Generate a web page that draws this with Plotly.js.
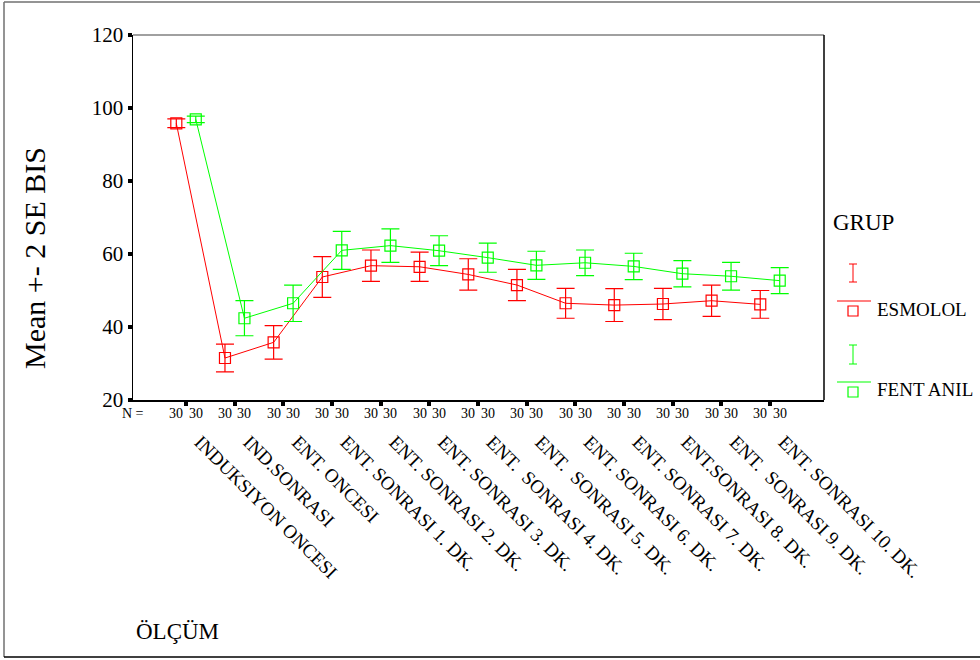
<!DOCTYPE html>
<html>
<head>
<meta charset="utf-8">
<script src="https://cdn.plot.ly/plotly-3.0.1.min.js"></script>
<style>html,body{margin:0;padding:0;background:#fff;}#chart{width:980px;height:660px;}</style>
</head>
<body>
<div id="chart"></div>
<script>
// ---- data ----
const categories = [
  "INDUKSIYON ONCESI", "IND.SONRASI", "ENT. ONCESI",
  "ENT. SONRASI 1. DK.", "ENT. SONRASI 2. DK.", "ENT. SONRASI 3. DK.",
  "ENT.  SONRASI 4. DK.", "ENT.  SONRASI 5. DK.", "ENT. SONRASI 6. DK.",
  "ENT. SONRASI 7. DK.", "ENT.SONRASI 8. DK.", "ENT.  SONRASI 9. DK.",
  "ENT. SONRASI 10. DK."
];
const esmololMean = [95.8, 31.5, 35.8, 53.7, 56.8, 56.5, 54.4, 51.5, 46.5, 46.0, 46.3, 47.2, 46.2];
const esmololErr  = [1.2, 3.8, 4.6, 5.6, 4.3, 4.0, 4.3, 4.3, 4.1, 4.5, 4.3, 4.3, 3.8];
const fentanilMean = [96.9, 42.4, 46.5, 61.0, 62.3, 60.9, 59.0, 56.9, 57.6, 56.6, 54.6, 53.9, 52.7];
const fentanilErr  = [0.9, 4.8, 5.0, 5.2, 4.6, 4.1, 4.0, 3.85, 3.5, 3.6, 3.6, 3.8, 3.55];
const nEsmolol = [30, 30, 30, 30, 30, 30, 30, 30, 30, 30, 30, 30, 30];
const nFentanil = [30, 30, 30, 30, 30, 30, 30, 30, 30, 30, 30, 30, 30];
const groupNames = ["ESMOLOL", "FENT ANIL"];
const yTicks = [20, 40, 60, 80, 100, 120];

// ---- styling ----
const RED = "#ff0000", GREEN = "#00ff00";
const FONT = "'Liberation Serif', 'Times New Roman', serif";
const OFF = 0.2;
const idx = categories.map((_, i) => i);

function series(mean, err, color, shift, name) {
  return {
    type: "scatter", mode: "lines+markers", name: name,
    x: idx.map(i => i + shift), y: mean,
    line: {color: color, width: 1},
    marker: {symbol: "square-open", size: 11, color: color, line: {width: 1.2, color: color}},
    error_y: {type: "data", array: err, visible: true, color: color, thickness: 1.2, width: 9},
    hoverinfo: "x+y", showlegend: false, cliponaxis: false
  };
}

const traces = [
  series(esmololMean, esmololErr, RED, -OFF, groupNames[0]),
  series(fentanilMean, fentanilErr, GREEN, OFF, groupNames[1])
];

// pixel -> paper helpers (plot area 133..824 x, 35..400 y)
const PL = 133, PR = 824, PT = 35, PB = 400;
const px = v => (v - PL) / (PR - PL);
const py = v => (PB - v) / (PB - PT);

function txt(x, y, text, size, xanchor, extra) {
  return Object.assign({xref: "paper", yref: "paper", x: px(x), y: py(y), text: text,
    xanchor: xanchor || "center", yanchor: "middle", showarrow: false,
    font: {family: FONT, size: size, color: "#000"}}, extra || {});
}

const annotations = [];
annotations.push(txt(34, 258, "Mean +- 2 SE BIS", 30, "center", {textangle: -90}));
annotations.push(txt(134, 631, "ÖLÇÜM", 23, "left"));
annotations.push(txt(133, 413, "N =", 14, "center"));
idx.forEach(i => {
  annotations.push({xref: "x", yref: "paper", x: i - OFF, y: py(413), text: String(nEsmolol[i]),
    xanchor: "center", yanchor: "middle", showarrow: false, font: {family: FONT, size: 14, color: "#000"}});
  annotations.push({xref: "x", yref: "paper", x: i + OFF, y: py(413), text: String(nFentanil[i]),
    xanchor: "center", yanchor: "middle", showarrow: false, font: {family: FONT, size: 14, color: "#000"}});
});
// legend text
annotations.push(txt(831, 222, "GRUP", 23, "left"));
annotations.push(txt(875, 309, groupNames[0], 19, "left"));
annotations.push(txt(875, 389, groupNames[1], 19, "left"));

function seg(x0, y0, x1, y1, color, w) {
  return {type: "line", xref: "paper", yref: "paper", x0: px(x0), y0: py(y0), x1: px(x1), y1: py(y1),
    line: {color: color, width: w}};
}
const shapes = [
  // outer frame
  seg(4, 2, 985, 2, "#707070", 1.5),
  seg(4, 2, 4, 657, "#707070", 1.5),
  seg(4, 657, 985, 657, "#000000", 1.5),
  // plot frame top & right
  seg(PL, PT, PR, PT, "#808080", 1.5),
  seg(PR, PT, PR, PB, "#000000", 1.5)
];
// legend glyphs
function legendGlyph(color, yTop, yBot, yLine, ySq) {
  shapes.push(seg(853, yTop, 853, yBot, color, 1));
  shapes.push(seg(849, yTop, 857, yTop, color, 1));
  shapes.push(seg(849, yBot, 857, yBot, color, 1));
  shapes.push(seg(837, yLine, 871, yLine, color, 1.2));
  shapes.push({type: "rect", xref: "paper", yref: "paper", x0: px(848), x1: px(858), y0: py(ySq + 5), y1: py(ySq - 5),
    line: {color: color, width: 1.2}});
}
legendGlyph(RED, 264, 282, 301, 311);
legendGlyph(GREEN, 345, 364, 382, 392);

const layout = {
  width: 980, height: 660,
  margin: {l: PL, r: 980 - PR, t: PT, b: 660 - PB},
  paper_bgcolor: "#fff", plot_bgcolor: "#fff",
  font: {family: FONT, color: "#000"},
  showlegend: false,
  xaxis: {
    range: [-1.09, 13.11], tickmode: "array", tickvals: idx, ticktext: categories,
    tickangle: 45, ticks: "outside", ticklen: 4, tickwidth: 4, tickcolor: "#000",
    ticklabelstandoff: 18, ticklabelshift: 14,
    showline: true, linecolor: "#000", linewidth: 1.5, showgrid: false, zeroline: false,
    tickfont: {family: FONT, size: 19, color: "#000"}
  },
  yaxis: {
    range: [20, 120], tickmode: "array", tickvals: yTicks,
    ticks: "outside", ticklen: 4, tickwidth: 4, tickcolor: "#000",
    showline: true, linecolor: "#000", linewidth: 1.5, showgrid: false, zeroline: false,
    tickfont: {family: FONT, size: 21, color: "#000"}
  },
  annotations: annotations,
  shapes: shapes
};

Plotly.newPlot("chart", traces, layout, {displayModeBar: false, staticPlot: true});
</script>
</body>
</html>
